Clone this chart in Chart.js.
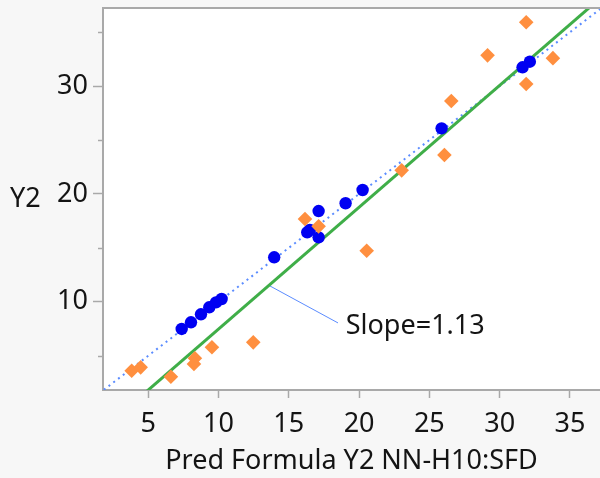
<!DOCTYPE html>
<html>
<head>
<meta charset="utf-8">
<script src="https://cdn.jsdelivr.net/npm/chart.js@4.4.1/dist/chart.umd.min.js"></script>
<style>
  html, body { margin: 0; padding: 0; background: #f7f7f7; overflow: hidden; }
  canvas { display: block; }
</style>
</head>
<body>
<canvas id="c" width="600" height="478"></canvas>
<script>
const blueX = [7.38, 8.04, 8.75, 9.34, 9.82, 10.22, 13.96, 16.31, 16.5, 17.12, 17.12, 19.04, 20.25, 25.87, 31.63, 32.15];
const blueY = [7.48, 8.10, 8.84, 9.49, 9.95, 10.26, 14.13, 16.45, 16.66, 18.42, 15.98, 19.14, 20.37, 26.09, 31.75, 32.27];

const orangeX = [3.82, 4.46, 6.61, 8.32, 8.25, 9.53, 12.47, 16.15, 17.12, 20.54, 23.03, 26.07, 26.56, 29.14, 31.89, 31.89, 33.79];
const orangeY = [3.61, 3.92, 3.05, 4.76, 4.23, 5.78, 6.24, 17.68, 17.0, 14.74, 22.19, 23.62, 28.63, 32.86, 35.93, 30.20, 32.60];

// y = x reference line and the fitted line (slope 1.13)
const diagX = [1.5, 38];
const diagY = [1.5, 38];
const fitX = [4.6, 37.0];
const fitY = [1.37, 37.98];
// leader from fit line to the slope label
const leaderX = [13.66, 18.5];
const leaderY = [11.47, 8.04];
const slopeText = "Slope=1.13";
const slopeAt = [19.05, 7.76];

const xTicks = [5, 10, 15, 20, 25, 30, 35];
const yTicks = [10, 20, 30];
const yMinorTicks = [5, 15, 25, 35];

const FONT = "'Noto Sans', 'Open Sans', sans-serif";
const INK = "#141414";
const AXIS = "#a9a9a9";

const pts = (xs, ys) => xs.map((x, i) => ({ x, y: ys[i] }));

// white plot area, top frame line, short minor ticks, Y2 label, slope text
const decor = {
  id: "decor",
  beforeDraw(chart) {
    const { ctx, chartArea: a } = chart;
    ctx.save();
    ctx.fillStyle = "#f7f7f7";
    ctx.fillRect(0, 0, chart.width, chart.height);
    ctx.fillStyle = "#ffffff";
    ctx.fillRect(a.left, a.top, a.right - a.left, a.bottom - a.top);
    ctx.restore();
  },
  afterDraw(chart) {
    const { ctx, chartArea: a, scales } = chart;
    ctx.save();
    ctx.strokeStyle = AXIS;
    ctx.lineWidth = 2;
    ctx.beginPath();
    ctx.moveTo(a.left - 1, a.top);
    ctx.lineTo(a.right, a.top);
    ctx.stroke();

    ctx.lineWidth = 1.5;
    yMinorTicks.forEach((v) => {
      const py = Math.round(scales.y.getPixelForValue(v)) + 0.5;
      ctx.beginPath();
      ctx.moveTo(a.left - 5, py);
      ctx.lineTo(a.left, py);
      ctx.stroke();
    });

    ctx.fillStyle = INK;
    ctx.font = "27px " + FONT;
    ctx.textBaseline = "middle";
    ctx.textAlign = "left";
    ctx.fillText("Y2", 10, 199);

    ctx.fillText(slopeText, scales.x.getPixelForValue(slopeAt[0]), scales.y.getPixelForValue(slopeAt[1]));
    ctx.restore();
  },
};

new Chart(document.getElementById("c"), {
  type: "scatter",
  data: {
    datasets: [
      {
        label: "Y2 orange",
        data: pts(orangeX, orangeY),
        pointStyle: "rectRot",
        pointRadius: 7.3,
        pointHoverRadius: 7.3,
        backgroundColor: "#ff8f3f",
        borderColor: "#ff8f3f",
        borderWidth: 0,
        order: 0,
      },
      {
        label: "Y2 blue",
        data: pts(blueX, blueY),
        pointStyle: "circle",
        pointRadius: 6.2,
        pointHoverRadius: 6.2,
        backgroundColor: "#0000f2",
        borderColor: "#0000f2",
        borderWidth: 0,
        order: 1,
      },
      {
        type: "line",
        label: "fit",
        data: pts(fitX, fitY),
        borderColor: "#3fae48",
        borderWidth: 3,
        pointRadius: 0,
        order: 2,
      },
      {
        type: "line",
        label: "y=x",
        data: pts(diagX, diagY),
        borderColor: "#5b8cff",
        borderWidth: 2,
        borderDash: [2, 4],
        pointRadius: 0,
        order: 3,
      },
      {
        type: "line",
        label: "leader",
        data: pts(leaderX, leaderY),
        borderColor: "#5b8cff",
        borderWidth: 1,
        pointRadius: 0,
        order: 4,
      },
    ],
  },
  options: {
    responsive: false,
    animation: false,
    events: [],
    layout: { autoPadding: false, padding: { top: 8, right: 0, bottom: 0, left: 0 } },
    plugins: { legend: { display: false }, tooltip: { enabled: false } },
    scales: {
      x: {
        type: "linear",
        min: 1.78,
        max: 37.14,
        afterFit: (s) => { s.height = 88; s.paddingLeft = 0; s.paddingRight = 0; },
        afterBuildTicks: (s) => { s.ticks = xTicks.map((v) => ({ value: v })); },
        border: { color: AXIS, width: 2 },
        grid: { drawOnChartArea: false, drawTicks: true, tickLength: 8, tickColor: AXIS, tickWidth: 1.5 },
        ticks: { color: INK, font: { family: FONT, size: 27 }, padding: 10, maxRotation: 0 },
        title: { display: true, text: "Pred Formula Y2 NN-H10:SFD", color: INK, font: { family: FONT, size: 27 }, padding: 0 },
      },
      y: {
        type: "linear",
        min: 1.82,
        max: 37.25,
        afterFit: (s) => { s.width = 103; s.paddingTop = 0; s.paddingBottom = 0; },
        afterBuildTicks: (s) => { s.ticks = yTicks.map((v) => ({ value: v })); },
        border: { color: AXIS, width: 2 },
        grid: { drawOnChartArea: false, drawTicks: true, tickLength: 10, tickColor: AXIS, tickWidth: 1.5 },
        ticks: { color: INK, font: { family: FONT, size: 27 }, padding: 5 },
      },
    },
  },
  plugins: [decor],
});
</script>
</body>
</html>
